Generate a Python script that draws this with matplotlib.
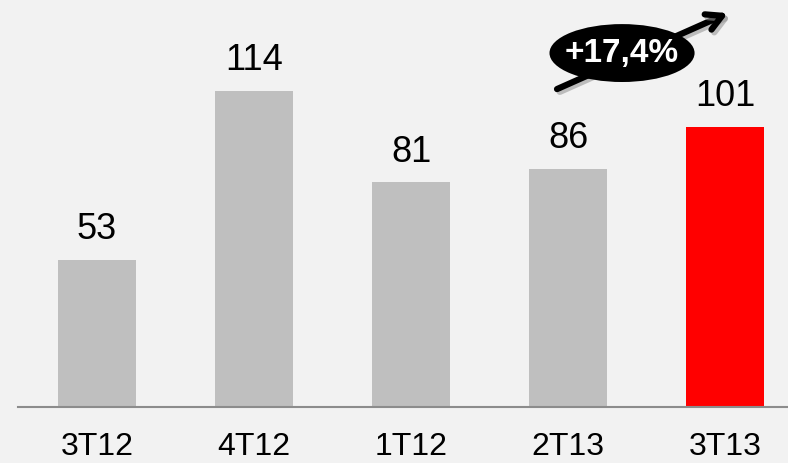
import matplotlib
matplotlib.use("Agg")
import matplotlib.pyplot as plt
import matplotlib.patheffects as pe
from matplotlib.patches import Ellipse

plt.rcParams['font.family'] = ['Liberation Sans', 'DejaVu Sans']

trimestres = ["3T12", "4T12", "1T12", "2T13", "3T13"]
valores = [53, 114, 81, 86, 101]
colores = ["#bfbfbf", "#bfbfbf", "#bfbfbf", "#bfbfbf", "#ff0000"]
variacion = "+17,4%"

fondo = "#f2f2f2"
fig = plt.figure(figsize=(7.88, 4.64), dpi=100, facecolor=fondo)
ax = fig.add_axes([18 / 788, 56 / 464, 770 / 788, 408 / 464])
ax.set_facecolor(fondo)

x = list(range(len(trimestres)))
barras = ax.bar(x, valores, width=0.5, color=colores)
ax.bar_label(barras, labels=[str(v) for v in valores], padding=10, fontsize=26)

ax.set_xlim(-0.503, 4.401)
ax.set_ylim(0, 147.2)
ax.set_xticks(x)
ax.set_xticklabels(trimestres, fontsize=23)
ax.tick_params(axis='x', length=0, pad=17)
ax.set_yticks([])
for lado in ["top", "right", "left"]:
    ax.spines[lado].set_visible(False)
ax.spines["bottom"].set_color("#8c8c8c")
ax.spines["bottom"].set_linewidth(1.5)

# flecha de crecimiento con sombra
sombra = [pe.SimpleLineShadow(offset=(2, -2), shadow_color="#999999", alpha=0.6), pe.Normal()]
ax.annotate("", xy=(4.019, 142.1), xytext=(2.930, 114.7),
            arrowprops=dict(arrowstyle="->,head_length=1.1,head_width=0.6",
                            lw=4.5, color="black", shrinkA=0, shrinkB=0,
                            path_effects=sombra),
            annotation_clip=False)

elipse = Ellipse((3.344, 127.7), 0.924, 20.9, facecolor="black", edgecolor="none", zorder=3)
ax.add_patch(elipse)
ax.text(3.344, 127.9, variacion, color="white", fontsize=24, fontweight="bold",
        ha="center", va="center", zorder=4)

fig.savefig("out.png", dpi=100, facecolor=fondo)
